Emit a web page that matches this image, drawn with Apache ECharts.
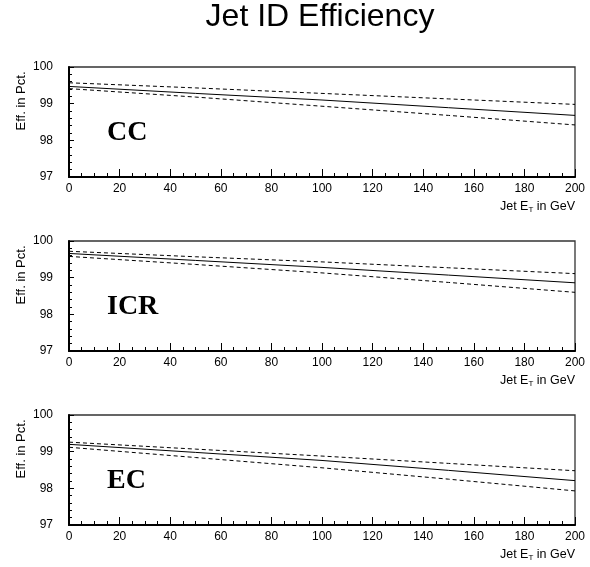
<!DOCTYPE html>
<html>
<head>
<meta charset="utf-8">
<script src="https://cdn.jsdelivr.net/npm/echarts@6/dist/echarts.min.js"></script>
<style>
  html, body { margin: 0; padding: 0; background: #fff; }
  #chart { width: 590px; height: 567px; }
</style>
</head>
<body>
<div id="chart"></div>
<script>
// Jet transverse energy (GeV) at which the efficiency curves are sampled
const energies = [0, 50, 100, 150, 200];

// Detector regions, one panel each
const regions = ['CC', 'ICR', 'EC'];

// Efficiency in percent: central value and upper / lower error band
const ccCentral  = [99.47, 99.28, 99.10, 98.89, 98.68];
const ccUpper    = [99.57, 99.43, 99.28, 99.13, 98.98];
const ccLower    = [99.41, 99.18, 98.93, 98.68, 98.42];

const icrCentral = [99.66, 99.47, 99.28, 99.07, 98.86];
const icrUpper   = [99.72, 99.57, 99.43, 99.27, 99.11];
const icrLower   = [99.58, 99.36, 99.13, 98.87, 98.60];

const ecCentral  = [99.20, 98.98, 98.76, 98.49, 98.21];
const ecUpper    = [99.26, 99.07, 98.88, 98.68, 98.48];
const ecLower    = [99.12, 98.84, 98.56, 98.25, 97.93];

const panelCurves = [
  [ccCentral, ccUpper, ccLower],
  [icrCentral, icrUpper, icrLower],
  [ecCentral, ecUpper, ecLower]
];

// Axis ranges and tick steps
const xMin = 0, xMax = 200, xStep = 20;
const yMin = 97, yMax = 100, yStep = 1;

// Layout of the three stacked panels
const panelTops = [67, 241, 415];
const panelHeight = 110;
const panelLeft = 69;
const panelRight = 15;

const tickFont = 'Liberation Sans, Arial, sans-serif';

const grids = [], xAxes = [], yAxes = [], series = [], graphics = [];

panelTops.forEach((top, p) => {
  grids.push({
    left: panelLeft, right: panelRight, top: top, height: panelHeight,
    show: true, borderColor: '#333', borderWidth: 1.3, backgroundColor: 'transparent'
  });
  xAxes.push({
    gridIndex: p, type: 'value', min: xMin, max: xMax, interval: xStep,
    axisLine: { show: true, onZero: false, lineStyle: { color: '#000', width: 2 } },
    axisTick: { show: true, inside: true, length: 8, lineStyle: { color: '#000', width: 1 } },
    minorTick: { show: true, splitNumber: 4, length: 4, lineStyle: { color: '#000', width: 1 } },
    splitLine: { show: false },
    axisLabel: { margin: 6, color: '#000', fontSize: 12, fontFamily: tickFont }
  });
  yAxes.push({
    gridIndex: p, type: 'value', min: yMin, max: yMax, interval: yStep,
    axisLine: { show: true, onZero: false, lineStyle: { color: '#000', width: 2 } },
    axisTick: { show: true, inside: true, length: 5, lineStyle: { color: '#000', width: 1 } },
    minorTick: { show: true, splitNumber: 5, length: 3, lineStyle: { color: '#000', width: 1 } },
    splitLine: { show: false },
    axisLabel: { margin: 16, color: '#000', fontSize: 12, fontFamily: tickFont }
  });

  const [central, upper, lower] = panelCurves[p];
  const pairs = vals => energies.map((e, i) => [e, vals[i]]);
  [
    { vals: central, type: 'solid' },
    { vals: upper, type: [4, 3] },
    { vals: lower, type: [4, 3] }
  ].forEach(c => {
    series.push({
      type: 'line', xAxisIndex: p, yAxisIndex: p,
      data: pairs(c.vals),
      showSymbol: false, silent: true, animation: false,
      lineStyle: { color: '#000', width: 1, type: c.type }
    });
  });

  // Region label inside the panel
  graphics.push({
    type: 'text', left: 107, top: top + 52,
    style: {
      text: regions[p], fill: '#000',
      font: 'bold 28px "Liberation Serif", "Times New Roman", serif'
    }
  });
  // Vertical axis title
  graphics.push({
    type: 'text', x: 21, y: top + 34, rotation: Math.PI / 2,
    style: {
      text: 'Eff. in Pct.', fill: '#000', align: 'center', verticalAlign: 'middle',
      font: '13px ' + tickFont
    }
  });
  // Horizontal axis title with subscript
  graphics.push({
    type: 'text', x: 575, y: top + panelHeight + 30,
    style: {
      text: '{a|Jet E}{s|T}{a| in GeV}', align: 'right', verticalAlign: 'middle',
      rich: {
        a: { fontSize: 12.5, fontFamily: tickFont, fill: '#000' },
        s: { fontSize: 8, fontFamily: tickFont, fill: '#000', padding: [5, 0, 0, 0] }
      }
    }
  });
});

// Figure title
graphics.push({
  type: 'text', x: 320, y: 17,
  style: {
    text: 'Jet ID Efficiency', fill: '#000', align: 'center', verticalAlign: 'middle',
    font: '32px "Liberation Sans", Arial, sans-serif'
  }
});

const chart = echarts.init(document.getElementById('chart'), null, { renderer: 'canvas' });
chart.setOption({
  animation: false,
  backgroundColor: '#fff',
  grid: grids,
  xAxis: xAxes,
  yAxis: yAxes,
  series: series,
  graphic: graphics
});
</script>
</body>
</html>
